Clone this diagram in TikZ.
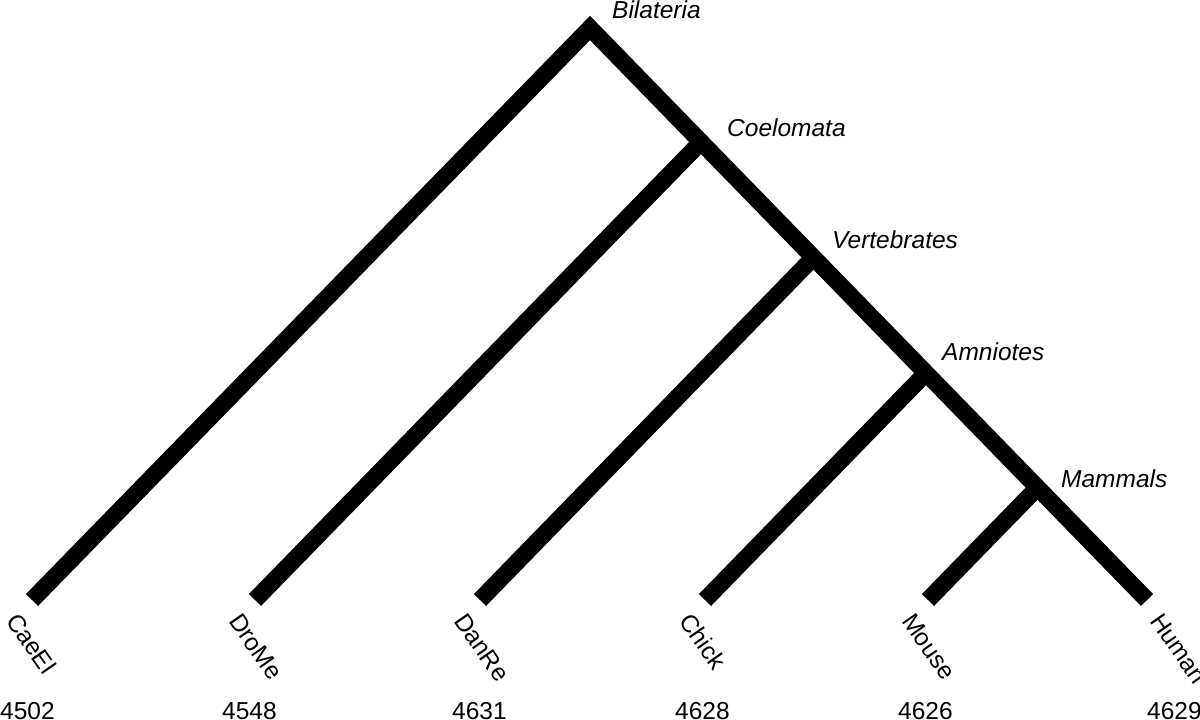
\documentclass[tikz,border=0pt]{standalone}
\usepackage{fontspec}
\setmainfont{Liberation Sans}
\begin{document}
\begin{tikzpicture}[x=1pt,y=-1pt,
  branch/.style={line width=17pt,line join=miter,line cap=butt,black},
  clade/.style={font=\fontsize{24.5}{28}\selectfont\itshape,inner sep=0pt,anchor=base west},
  taxon/.style={font=\fontsize{24.5}{28}\selectfont,inner sep=0pt,anchor=base west,rotate=-55},
  count/.style={font=\fontsize{24.5}{28}\selectfont,inner sep=0pt,anchor=base west}]
\useasboundingbox (0,0) rectangle (1200,720);
% leaves
\coordinate (caeel) at (32,600);
\coordinate (drome) at (255,600);
\coordinate (danre) at (480,600);
\coordinate (chick) at (705,600);
\coordinate (mouse) at (928,600);
\coordinate (human) at (1147,600);
% internal nodes
\coordinate (bil) at (590,28);
\coordinate (coe) at (701,142);
\coordinate (ver) at (813.5,257.5);
\coordinate (amn) at (926,373);
\coordinate (mam) at (1037.5,487.6);
% branches
\draw[branch] (caeel) -- (bil) -- (human);
\draw[branch] (drome) -- (coe);
\draw[branch] (danre) -- (ver);
\draw[branch] (chick) -- (amn);
\draw[branch] (mouse) -- (mam);
% clade labels
\node[clade] (lbil) at (612,18) {Bilateria};
\node[clade] (lcoe) at (727,136) {Coelomata};
\node[clade] (lver) at (832,248) {Vertebrates};
\node[clade] (lamn) at (942,360) {Amniotes};
\node[clade] (lmam) at (1061,487) {Mammals};
% taxon labels
\node[taxon] (tcaeel) at (5,621) {CaeEl};
\node[taxon] (tdrome) at (228,621) {DroMe};
\node[taxon] (tdanre) at (453,621) {DanRe};
\node[taxon] (tchick) at (678,621) {Chick};
\node[taxon] (tmouse) at (901,621) {Mouse};
\node[taxon] (thuman) at (1149,621) {Human};
% counts
\node[count] (ncaeel) at (0,719) {4502};
\node[count] (ndrome) at (222,719) {4548};
\node[count] (ndanre) at (452,719) {4631};
\node[count] (nchick) at (675,719) {4628};
\node[count] (nmouse) at (898,719) {4626};
\node[count] (nhuman) at (1147,719) {4629};
\end{tikzpicture}
\end{document}
